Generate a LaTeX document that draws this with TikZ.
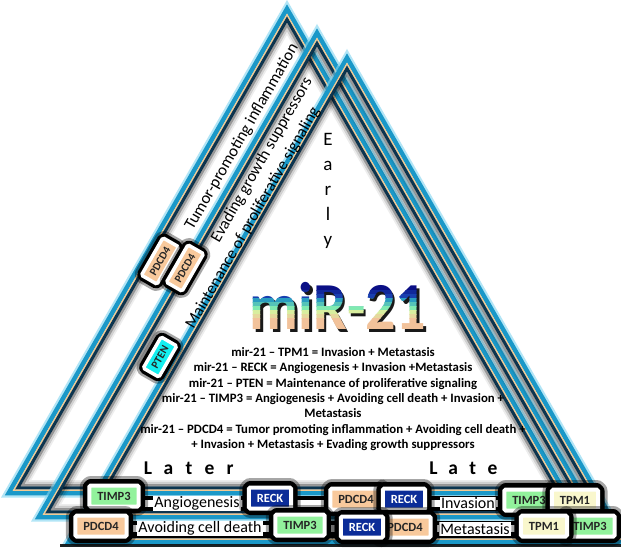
\documentclass[tikz,border=0pt]{standalone}
\usepackage{fontspec}
\setmainfont{Carlito}

\definecolor{bandglow}{HTML}{7FD4F0}
\definecolor{bandteal}{HTML}{1A98C8}
\definecolor{bandtan}{HTML}{F2CA92}
\definecolor{banddeep}{HTML}{0C3550}
\definecolor{tagpeach}{HTML}{F8C99C}
\definecolor{tagmint}{HTML}{92F29C}
\definecolor{tagblue}{HTML}{0B2C98}
\definecolor{tagcream}{HTML}{F9F7CC}
\definecolor{tagcyan}{HTML}{14EFF0}
\definecolor{mirA}{HTML}{0A0F85}
\definecolor{mirB}{HTML}{1840B0}
\definecolor{mirC}{HTML}{2A9CC0}
\definecolor{mirD}{HTML}{80EAB0}
\definecolor{mirE}{HTML}{D8EE9E}
\definecolor{mirF}{HTML}{F2C29A}

% One glowing triangular frame, apex at (#1,#2); every stripe is the same
% triangle shrunk about its incentre (inradius 158).
\newcommand\trianglebands[2]{%
  \begin{scope}[shift={(#1,#2+317)}]
    \foreach \bd/\bw/\bc/\bo in {-6/3/bandglow/0.6, -3/4.6/bandteal/1,
        0/1.5/bandtan/1, 2.2/3/banddeep/1, 4.8/2.4/black/0.4,
        7/2.2/black/0.18, 9/2/black/0.07}{
      \pgfmathsetmacro\kk{(158-\bd)/158}
      \draw[line width=\bw pt, draw=\bc, draw opacity=\bo, line join=miter]
        (0,{-317*\kk}) -- ({-273*\kk},{158*\kk}) -- ({273*\kk},{158*\kk}) -- cycle;
    }
  \end{scope}}

\newcommand\mirfont{\fontsize{60}{60}\selectfont\bfseries}

\begin{document}
\begin{tikzpicture}[x=1pt,y=-1pt,
  tag/.style={fill=#1, draw=white, line width=4pt, rounded corners=1.5pt,
    font=\fontsize{12.5}{12.5}\selectfont\bfseries, text=black!85,
    inner xsep=8pt, inner ysep=0pt, minimum height=21pt,
    preaction={draw=black, draw opacity=0.35, line width=19pt, line join=round},
    preaction={draw=black, line width=13pt, line join=round}},
  smalltag/.style={fill=#1, draw=white, line width=3.5pt, rounded corners=1.5pt,
    font=\fontsize{11}{11}\selectfont\bfseries, text=black!85,
    inner xsep=6pt, inner ysep=0pt, minimum height=18pt, rotate=60.1,
    preaction={draw=black, draw opacity=0.35, line width=15pt, line join=round},
    preaction={draw=black, line width=10pt, line join=round}},
  sidetext/.style={font=\fontsize{16.5}{16.5}\selectfont, rotate=60.1, inner sep=0pt},
  rowtext/.style={font=\fontsize{16}{16}\selectfont, fill=white, inner xsep=1.5pt, inner ysep=1pt},
  stagetext/.style={font=\fontsize{19.5}{19.5}\selectfont\bfseries, inner sep=0pt},
  listtext/.style={font=\fontsize{12.8}{15.3}\selectfont\bfseries, align=center, inner sep=0pt}]

\useasboundingbox (0,0) rectangle (621,547);
\fill[white] (0,0) rectangle (621,547);

% three nested frames
\trianglebands{287}{15}
\trianglebands{317}{39}
\trianglebands{347}{64}

% labels running along the left sides
\node[sidetext] (inflam) at (242,137) {Tumor-promoting inflammation};
\node[sidetext] (evade) at (262,160) {Evading growth suppressors};
\node[sidetext] (prolif) at (253,218) {Maintenance of proliferative signaling};

% stage words
\node[font=\fontsize{19}{25}\selectfont, align=center, inner sep=0pt] (early) at (328,191) {E\\a\\r\\l\\y};
\node[stagetext] (later) at (189,468) {\makebox[20.5pt]{L}\makebox[20.5pt]{a}\makebox[20.5pt]{t}\makebox[20.5pt]{e}\makebox[20.5pt]{r}};
\node[stagetext] (late) at (463,468) {\makebox[19.7pt]{L}\makebox[19.7pt]{a}\makebox[19.7pt]{t}\makebox[19.7pt]{e}};

% title: black drop shadow, then horizontal slices in a colour ramp
\node[font=\mirfont, text=black, yscale=1.12, opacity=0.9] (mirshadow) at (340.5,308.5) {miR-21};
\foreach \ya/\yb/\cc [count=\i] in {260/290/mirA, 290/294/{mirA!50!mirB},
    294/298/mirB, 298/302/mirC, 302/306/{mirC!50!mirD},
    306/310/mirD, 310/314/mirE, 314/318/{mirE!50!mirF}, 318/340/mirF}{
  \begin{scope}
    \clip (200,\ya) rectangle (480,\yb+0.6);
    \node[font=\mirfont, text=\cc, yscale=1.12] (mirband\i) at (338,306) {miR-21};
  \end{scope}
}

% summary of targets
\node[listtext] (summary) at (333,399) {%
mir-21 – TPM1 = Invasion + Metastasis\\
mir-21 – RECK = Angiogenesis + Invasion +Metastasis\\
mir-21 – PTEN = Maintenance of proliferative signaling\\
mir-21 – TIMP3 = Angiogenesis + Avoiding cell death + Invasion +\\
Metastasis\\
mir-21 – PDCD4 = Tumor promoting inflammation + Avoiding cell death +\\
+ Invasion + Metastasis + Evading growth suppressors};

% hallmark rows along the bases
\fill[black] (95,496) rectangle (600,511);
\fill[white] (95,500) rectangle (600,507);
\fill[black] (80,520.5) rectangle (615,537.5);
\fill[white] (80,525) rectangle (615,532);
\fill[black, opacity=0.85] (60,543.5) rectangle (621,547);

\node[rowtext] (angio) at (197,503.5) {Angiogenesis};
\node[rowtext] (invasion) at (468,503.5) {Invasion};
\node[rowtext] (avoid) at (200,528.5) {Avoiding cell death};
\node[rowtext] (metast) at (475,529) {Metastasis};

% target tags on the left sides
\node[smalltag=tagpeach] (lpdcdA) at (160,261) {PDCD4};
\node[smalltag=tagpeach] (lpdcdB) at (185,268) {PDCD4};
\node[smalltag=tagcyan] (lpten) at (160,357) {PTEN};

% target tags on the bottom rows
\node[tag=tagmint] (rAtimp) at (114,496) {TIMP3};
\node[tag=tagblue, text=white] (rAreck) at (270,498) {RECK};
\node[tag=tagpeach] (rApdcd) at (356,499) {PDCD4};
\node[tag=tagblue, text=white] (rAreckB) at (404,499) {RECK};
\node[tag=tagmint] (rAtimpB) at (529,500) {TIMP3};
\node[tag=tagcream] (rAtpm) at (575,500) {TPM1};

\node[tag=tagpeach] (rBpdcd) at (101,526) {PDCD4};
\node[tag=tagmint] (rBtimp) at (300,525) {TIMP3};
\node[tag=tagpeach] (rBpdcdB) at (405,527) {PDCD4};
\node[tag=tagblue, text=white] (rBreck) at (362,527) {RECK};
\node[tag=tagmint] (rBtimpB) at (590,526) {TIMP3};
\node[tag=tagcream] (rBtpm) at (544,526) {TPM1};

\end{tikzpicture}
\end{document}
